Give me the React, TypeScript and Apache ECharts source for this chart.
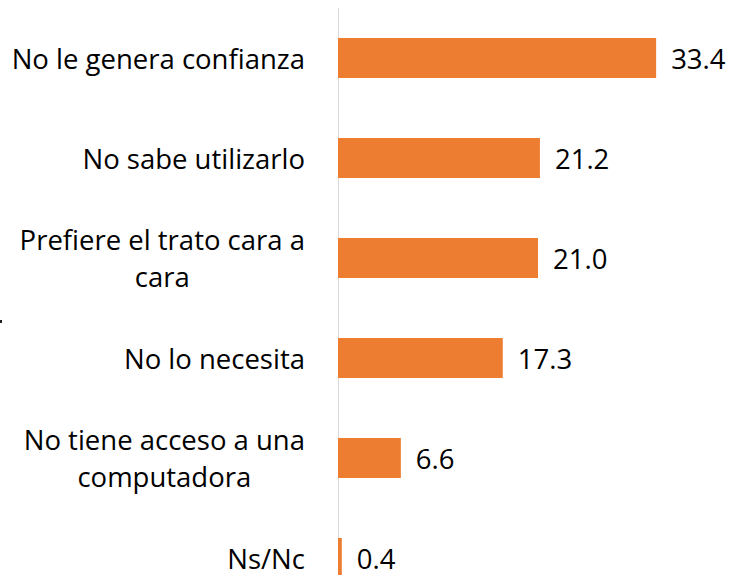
import React, { useEffect, useRef } from "react";
import * as echarts from "echarts";

const categories = [
  "No le genera confianza",
  "No sabe utilizarlo",
  "Prefiere el trato cara a\ncara",
  "No lo necesita",
  "No tiene acceso a una\ncomputadora",
  "Ns/Nc",
];
const values = [33.4, 21.2, 21.0, 17.3, 6.6, 0.4];

const FONT = "'Open Sans', sans-serif";
const FS = 27.5;

export default function App() {
  const ref = useRef<HTMLDivElement>(null);
  useEffect(() => {
    if (!ref.current) return;
    const chart = echarts.init(ref.current, null, { renderer: "svg" });
    chart.setOption({
      animation: false,
      backgroundColor: "#ffffff",
      grid: {
        left: 338,
        top: 8,
        height: 600,
        right: 14,
        outerBoundsMode: "none",
        containLabel: false,
      },
      xAxis: {
        type: "value",
        min: 0,
        max: 40,
        show: false,
      },
      yAxis: {
        type: "category",
        inverse: true,
        data: categories,
        axisLine: { show: true, lineStyle: { color: "#d9d9d9", width: 1 } },
        axisTick: { show: false },
        axisLabel: {
          margin: 33,
          color: "#000000",
          fontFamily: FONT,
          fontSize: FS,
          formatter: (v: string) =>
            v.includes("\n")
              ? v
                  .split("\n")
                  .map((l) => `{c|${l}}`)
                  .join("\n")
              : v,
          rich: {
            c: {
              align: "center",
              color: "#000000",
              fontFamily: FONT,
              fontSize: FS,
              lineHeight: 37,
            },
          },
        },
      },
      series: [
        {
          type: "bar",
          data: values,
          barWidth: 40,
          itemStyle: { color: "#ED7D31" },
          label: {
            show: true,
            position: "right",
            distance: 15,
            color: "#000000",
            fontFamily: FONT,
            fontSize: FS,
            formatter: (p: any) => Number(p.value).toFixed(1),
          },
        },
      ],
      graphic: [
        {
          type: "rect",
          left: 0,
          top: 320,
          shape: { width: 2, height: 3 },
          style: { fill: "#222222" },
        },
      ],
    });
    return () => chart.dispose();
  }, []);
  return (
    <div
      ref={ref}
      style={{ position: "fixed", left: 0, top: 0, width: 733, height: 575 }}
    />
  );
}
